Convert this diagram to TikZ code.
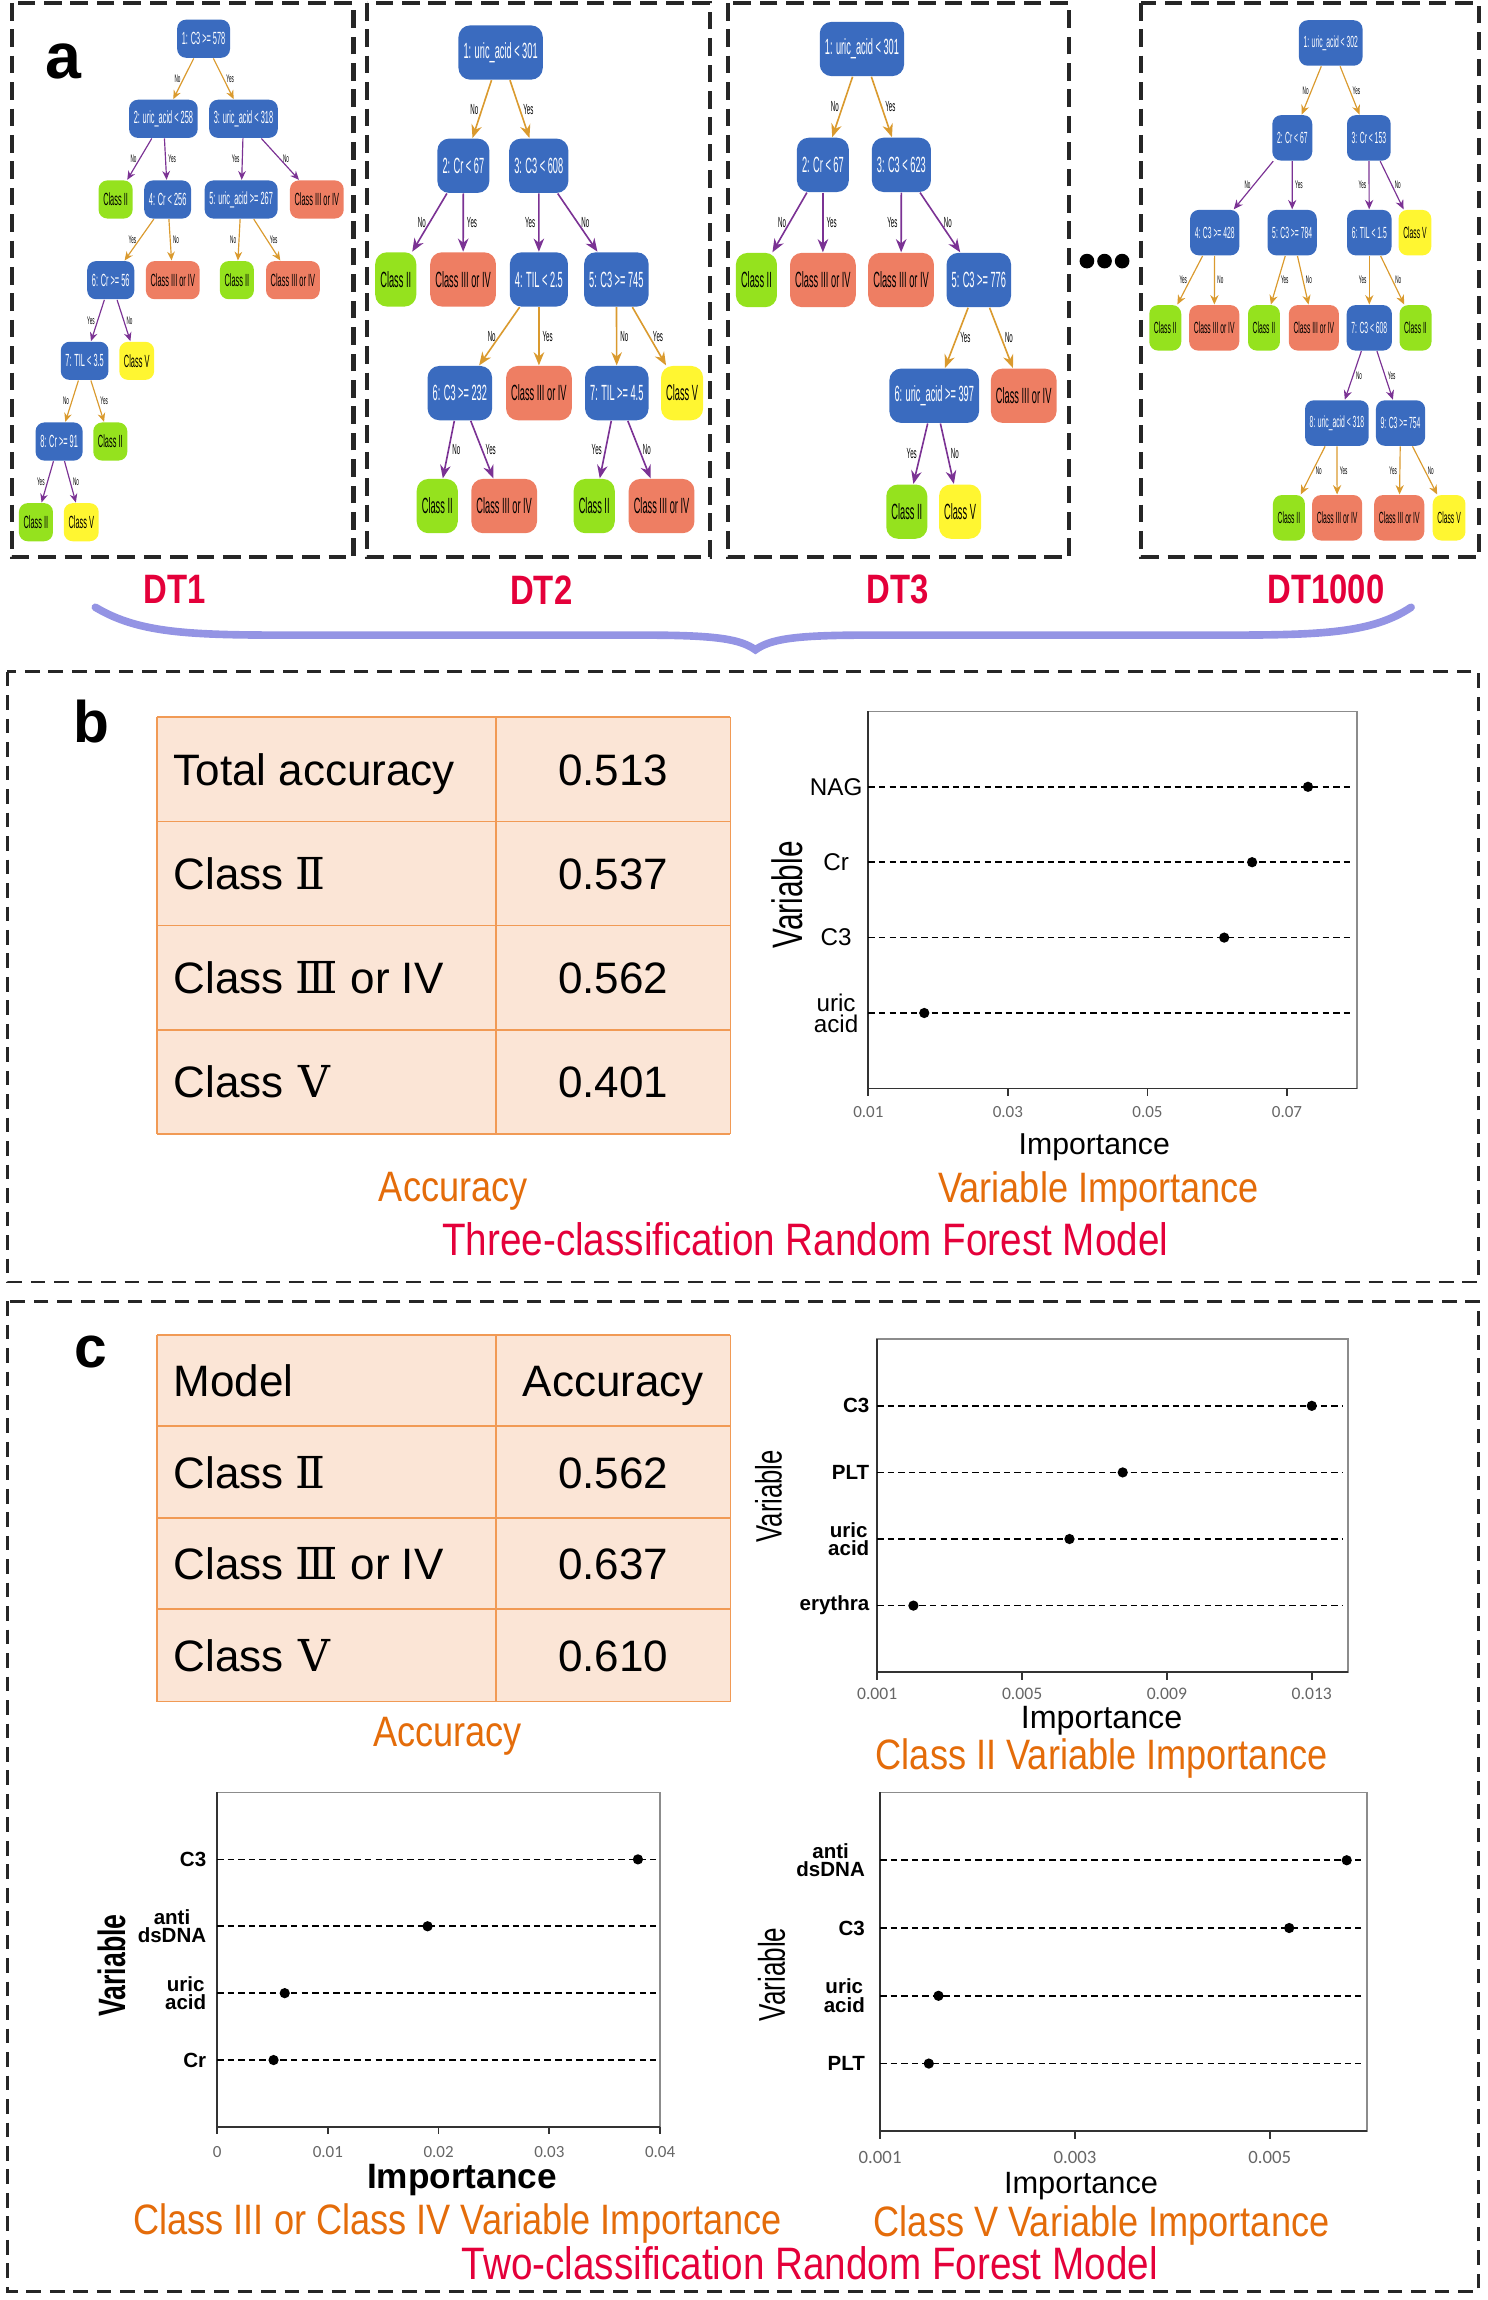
\documentclass[tikz,border=0pt]{standalone}
\usepackage{fontspec}
\setmainfont{Liberation Sans}
\newfontfamily\narrowfont[FakeStretch=0.42]{Liberation Sans}
\newfontfamily\dtfont[FakeStretch=0.8]{Liberation Sans}
\newfontfamily\varfont[FakeStretch=0.7]{Liberation Sans}
\newfontfamily\titlefont[FakeStretch=0.85]{Liberation Sans}
\newfontfamily\romfont{DejaVu Serif}
\newfontfamily\tickfont{Carlito}
\usetikzlibrary{arrows.meta}

\definecolor{treeblue}{HTML}{3A6BBF}
\definecolor{leafgreen}{HTML}{95E21E}
\definecolor{leafsalmon}{HTML}{EE7E63}
\definecolor{leafyellow}{HTML}{FFF631}
\definecolor{edgeorange}{HTML}{DA9A2E}
\definecolor{edgepurple}{HTML}{7B3294}
\definecolor{dtred}{HTML}{E4003A}
\definecolor{titleorange}{HTML}{E46C0A}
\definecolor{tabfill}{HTML}{FBE5D6}
\definecolor{tabline}{HTML}{F19A55}
\definecolor{bracecol}{HTML}{9494E4}

\newcommand{\fsz}[2]{\fontsize{#1}{#2}\selectfont}

\tikzset{
	tn/.style={rounded corners=3pt, minimum height=16pt},
	yn/.style={},
	arr/.style={->},
	dec/.style={tn, fill=treeblue, text=white},
	cii/.style={tn, fill=leafgreen},
	ciii/.style={tn, fill=leafsalmon},
	cv/.style={tn, fill=leafyellow},
	org/.style={arr, draw=edgeorange},
	pur/.style={arr, draw=edgepurple},
	treebox/.style={draw=black!85, line width=1.4pt, dash pattern=on 6pt off 3pt},
	panel/.style={draw=black!85, line width=1pt, dash pattern=on 5pt off 3pt},
	plab/.style={font=\bfseries\fsz{20}{20}},
	dtlab/.style={font=\dtfont\bfseries\fsz{14}{14}, text=dtred},
	tabtxt/.style={font=\fsz{15}{15}, inner sep=0pt},
	otitle/.style={font=\titlefont\fsz{14.5}{15}, text=titleorange, inner sep=1pt},
	rtitle/.style={font=\titlefont\fsz{15.5}{16}, text=dtred, inner sep=1pt},
	frmlight/.style={draw=black!45, line width=0.6pt},
	frmdark/.style={draw=black!80, line width=0.6pt},
	ticklab/.style={font=\tickfont\fsz{5.8}{6}, text=black!60},
	dline/.style={dash pattern=on 2.2pt off 1.4pt, line width=0.6pt},
	ylab/.style={font=\fsz{8.25}{5.8}, align=center, inner sep=0pt},
	ylabc/.style={font=\bfseries\fsz{7}{6.3}, align=center, inner sep=0pt, anchor=east},
	vlab/.style={font=\varfont\fsz{14.5}{14}, rotate=90},
	xlab/.style={font=\fsz{10.3}{10}, inner sep=1pt}
}

\begin{document}
\begin{tikzpicture}[x=0.5pt, y=-0.5pt]
	\useasboundingbox (0,0) rectangle (1014,1568);

	% a: four trees
	\foreach \l/\r in {8/241, 250/484, 496/729, 778/1008}
		\draw[treebox] (\l,2) rectangle (\r,380);
	\node[plab, font=\bfseries\fsz{22}{22}] (la) at (43,42) {a};

	% DT1
	\begin{scope}[tn/.style={rounded corners=3pt, minimum height=13pt, inner xsep=1.6pt, inner ysep=0pt, font=\narrowfont\fsz{6}{6}},
		yn/.style={font=\narrowfont\fsz{3.75}{4}, inner sep=0.8pt},
		arr/.style={line width=0.4pt, -{Stealth[length=3pt,width=2.6pt]}}]
		\node[dec] (a1) at (138.8,26.4) {1: C3 >= 578};
		\node[dec] (a2) at (111.4,81) {2: uric\_acid < 258};
		\node[dec] (a3) at (166,81) {3: uric\_acid < 318};
		\node[cii] (a1l) at (78.8,136) {Class II};
		\node[dec] (a4) at (114.3,136) {4: Cr < 256};
		\node[dec] (a5) at (164.4,136) {5: uric\_acid >= 267};
		\node[ciii] (a2l) at (216,136) {Class III or IV};
		\node[dec] (a6) at (75.5,191) {6: Cr >= 56};
		\node[ciii] (a3l) at (117.8,191) {Class III or IV};
		\node[cii] (a4l) at (161.5,191) {Class II};
		\node[ciii] (a5l) at (199.7,191) {Class III or IV};
		\node[dec] (a7) at (57.7,246) {7: TIL < 3.5};
		\node[cv] (a6l) at (93.2,246) {Class V};
		\node[dec] (a8) at (40.3,301) {8: Cr >= 91};
		\node[cii] (a7l) at (75.2,301) {Class II};
		\node[cii] (a8l) at (24.5,356) {Class II};
		\node[cv] (a9l) at (55.4,356) {Class V};

		\draw[org] (a1) -- node[yn,left]{No} (a2);
		\draw[org] (a1) -- node[yn,right]{Yes} (a3);
		\draw[pur] (a2) -- node[yn,left]{No} (a1l);
		\draw[pur] (a2) -- node[yn,right]{Yes} (a4);
		\draw[pur] (a3) -- node[yn,left]{Yes} (a5);
		\draw[pur] (a3) -- node[yn,right]{No} (a2l);
		\draw[org] (a4) -- node[yn,left]{Yes} (a6);
		\draw[org] (a4) -- node[yn,right]{No} (a3l);
		\draw[org] (a5) -- node[yn,left]{No} (a4l);
		\draw[org] (a5) -- node[yn,right]{Yes} (a5l);
		\draw[pur] (a6) -- node[yn,left]{Yes} (a7);
		\draw[pur] (a6) -- node[yn,right]{No} (a6l);
		\draw[org] (a7) -- node[yn,left]{No} (a8);
		\draw[org] (a7) -- node[yn,right]{Yes} (a7l);
		\draw[pur] (a8) -- node[yn,left]{Yes} (a8l);
		\draw[pur] (a8) -- node[yn,right]{No} (a9l);
	\end{scope}

	% DT2, DT3
	\begin{scope}[tn/.style={rounded corners=4pt, minimum height=18.5pt, inner xsep=1.75pt, inner ysep=0pt, font=\narrowfont\fsz{7.5}{7.5}},
		yn/.style={font=\narrowfont\fsz{5}{5}, inner sep=1pt},
		arr/.style={line width=0.55pt, -{Stealth[length=4.5pt,width=3.6pt]}}]
		\node[dec] (b1) at (341.3,35.8) {1: uric\_acid < 301};
		\node[dec] (b2) at (315.9,113) {2: Cr < 67};
		\node[dec] (b3) at (367.3,113) {3: C3 < 608};
		\node[cii] (b1l) at (269.8,190.5) {Class II};
		\node[ciii] (b2l) at (315.7,190.5) {Class III or IV};
		\node[dec] (b4) at (367.4,190.5) {4: TIL < 2.5};
		\node[dec] (b5) at (420.2,190.5) {5: C3 >= 745};
		\node[dec] (b6) at (313.5,268) {6: C3 >= 232};
		\node[ciii] (b3l) at (367.4,268) {Class III or IV};
		\node[dec] (b7) at (420.5,268) {7: TIL >= 4.5};
		\node[cv] (b4l) at (465,268) {Class V};
		\node[cii] (b5l) at (298.1,345) {Class II};
		\node[ciii] (b6l) at (343.7,345) {Class III or IV};
		\node[cii] (b7l) at (405.1,345) {Class II};
		\node[ciii] (b8l) at (451,345) {Class III or IV};

		\draw[org] (b1) -- node[yn,left]{No} (b2);
		\draw[org] (b1) -- node[yn,right]{Yes} (b3);
		\draw[pur] (b2) -- node[yn,left]{No} (b1l);
		\draw[pur] (b2) -- node[yn,right]{Yes} (b2l);
		\draw[pur] (b3) -- node[yn,left]{Yes} (b4);
		\draw[pur] (b3) -- node[yn,right]{No} (b5);
		\draw[org] (b4) -- node[yn,left]{No} (b6);
		\draw[org] (b4) -- node[yn,right]{Yes} (b3l);
		\draw[org] (b5) -- node[yn,right]{No} (b7);
		\draw[org] (b5) -- node[yn,right]{Yes} (b4l);
		\draw[pur] (b6) -- node[yn,right]{No} (b5l);
		\draw[pur] (b6) -- node[yn,right]{Yes} (b6l);
		\draw[pur] (b7) -- node[yn,left]{Yes} (b7l);
		\draw[pur] (b7) -- node[yn,right]{No} (b8l);

		\node[dec] (c1) at (587.6,33.4) {1: uric\_acid < 301};
		\node[dec] (c2) at (561,112.4) {2: Cr < 67};
		\node[dec] (c3) at (614.5,112.4) {3: C3 < 623};
		\node[cii] (c1l) at (515.7,190.9) {Class II};
		\node[ciii] (c2l) at (561,190.9) {Class III or IV};
		\node[ciii] (c3l) at (614.3,190.9) {Class III or IV};
		\node[dec] (c5) at (667.3,190.9) {5: C3 >= 776};
		\node[dec] (c6) at (636.9,269.8) {6: uric\_acid >= 397};
		\node[ciii] (c4l) at (697.9,269.8) {Class III or IV};
		\node[cii] (c5l) at (618.2,348.8) {Class II};
		\node[cv] (c6l) at (654.5,348.8) {Class V};

		\draw[org] (c1) -- node[yn,left]{No} (c2);
		\draw[org] (c1) -- node[yn,right]{Yes} (c3);
		\draw[pur] (c2) -- node[yn,left]{No} (c1l);
		\draw[pur] (c2) -- node[yn,right]{Yes} (c2l);
		\draw[pur] (c3) -- node[yn,left]{Yes} (c3l);
		\draw[pur] (c3) -- node[yn,right]{No} (c5);
		\draw[org] (c5) -- node[yn,right]{Yes} (c6);
		\draw[org] (c5) -- node[yn,right]{No} (c4l);
		\draw[pur] (c6) -- node[yn,left]{Yes} (c5l);
		\draw[pur] (c6) -- node[yn,right]{No} (c6l);
	\end{scope}

	% DT1000
	\begin{scope}[tn/.style={rounded corners=3pt, minimum height=15.5pt, inner xsep=1.6pt, inner ysep=0pt, font=\narrowfont\fsz{5.5}{5.5}},
		yn/.style={font=\narrowfont\fsz{3.75}{4}, inner sep=0.8pt},
		arr/.style={line width=0.4pt, -{Stealth[length=3.2pt,width=2.8pt]}}]
		\node[dec] (d1) at (907.2,29.3) {1: uric\_acid < 302};
		\node[dec] (d2) at (881,94) {2: Cr < 67};
		\node[dec] (d3) at (933.2,94) {3: Cr < 153};
		\node[dec] (d4) at (828.1,158.6) {4: C3 >= 428};
		\node[dec] (d5) at (880.9,158.6) {5: C3 >= 784};
		\node[dec] (d6) at (933.5,158.6) {6: TIL < 1.5};
		\node[cv] (d1l) at (964.6,158.6) {Class V};
		\node[cii] (d2l) at (794.4,223.5) {Class II};
		\node[ciii] (d3l) at (827.8,223.5) {Class III or IV};
		\node[cii] (d4l) at (861.7,223.5) {Class II};
		\node[ciii] (d5l) at (895.7,223.5) {Class III or IV};
		\node[dec] (d7) at (933.5,223.5) {7: C3 < 608};
		\node[cii] (d6l) at (965,223.5) {Class II};
		\node[dec] (d8) at (911.4,288.4) {8: uric\_acid < 318};
		\node[dec] (d9) at (954.8,288.4) {9: C3 >= 754};
		\node[cii] (d7l) at (878.7,353) {Class II};
		\node[ciii] (d8l) at (911.6,353) {Class III or IV};
		\node[ciii] (d9l) at (953.9,353) {Class III or IV};
		\node[cv] (d10l) at (987.9,353) {Class V};

		\draw[org] (d1) -- node[yn,left]{No} (d2);
		\draw[org] (d1) -- node[yn,right]{Yes} (d3);
		\draw[pur] (d2) -- node[yn,left]{No} (d4);
		\draw[pur] (d2) -- node[yn,right]{Yes} (d5);
		\draw[pur] (d3) -- node[yn,left]{Yes} (d6);
		\draw[pur] (d3) -- node[yn,right]{No} (d1l);
		\draw[org] (d4) -- node[yn,left]{Yes} (d2l);
		\draw[org] (d4) -- node[yn,right]{No} (d3l);
		\draw[org] (d5) -- node[yn,right]{Yes} (d4l);
		\draw[org] (d5) -- node[yn,right]{No} (d5l);
		\draw[org] (d6) -- node[yn,left]{Yes} (d7);
		\draw[org] (d6) -- node[yn,right]{No} (d6l);
		\draw[pur] (d7) -- node[yn,right]{No} (d8);
		\draw[pur] (d7) -- node[yn,right]{Yes} (d9);
		\draw[org] (d8) -- node[yn,right]{No} (d7l);
		\draw[org] (d8) -- node[yn,right]{Yes} (d8l);
		\draw[org] (d9) -- node[yn,left]{Yes} (d9l);
		\draw[org] (d9) -- node[yn,right]{No} (d10l);
	\end{scope}

	\foreach \x in {741,753,765}
		\fill (\x,178) circle (5);

	\node[dtlab] (dt1) at (119,402) {DT1};
	\node[dtlab] (dt2) at (369,402) {DT2};
	\node[dtlab] (dt3) at (612,402) {DT3};
	\node[dtlab] (dt1000) at (904,402) {DT1000};
	\draw[bracecol, line width=2.6pt, line cap=round] (65,414) .. controls (95,432) and (130,433) .. (200,433) -- (440,433)
		.. controls (490,433) and (505,436) .. (515,443) .. controls (525,436) and (540,433) .. (590,433) -- (830,433)
		.. controls (900,433) and (935,432) .. (962,414);

	% b: three classes
	\draw[panel] (5,458) rectangle (1008,874);
	\node[plab] (lb) at (62,492) {b};
	\fill[tabfill] (107,489) rectangle (498,773);
	\foreach \y in {489,560,631,702,773}
		\draw[tabline, line width=0.6pt] (107,\y) -- (498,\y);
	\foreach \x in {107,338,498}
		\draw[tabline, line width=0.6pt] (\x,489) -- (\x,773);
	\foreach \y/\k/\v [count=\i] in {524.5/Total accuracy/0.513, 595.5/{Class {\romfont Ⅱ}}/0.537, 666.5/{Class {\romfont Ⅲ} or IV}/0.562, 737.5/{Class\kern5pt{\romfont Ⅴ}}/0.401} {
		\node[tabtxt, anchor=base west] (bk\i) at (118,\y+11) {\k};
		\node[tabtxt, anchor=base] (bv\i) at (418,\y+11) {\v};
	}

	\draw[frmlight] (592,485) rectangle (925,742);
	\draw[frmdark] (592,485) -- (592,742) -- (925,742);
	\foreach \t/\x [count=\i] in {0.01/592, 0.03/687.1, 0.05/782.3, 0.07/877.4} {
		\draw[frmdark] (\x,742) -- (\x,747);
		\node[ticklab] (bt\i) at (\x,758) {\t};
	}
	\foreach \y/\x/\v [count=\i] in {536.4/891.7/NAG, 587.8/853.6/Cr, 639.2/834.6/C3, 690.6/630.1/{uric\\acid}} {
		\draw[dline] (592,\y) -- (921,\y);
		\fill (\x,\y) circle (3.5);
		\node[ylab] (bn\i) at (570,\y) {\v};
	}
	\node[vlab] (bvar) at (537,610) {Variable};
	\node[xlab] (bimpx) at (746,782) {Importance};

	\node[otitle] (bacc) at (309,812) {Accuracy};
	\node[otitle] (bimp) at (749,812) {Variable Importance};
	\node[rtitle] (bmod) at (549,845) {Three-classification Random Forest Model};

	% c: two classes
	\draw[panel] (5,887) rectangle (1008,1562);
	\node[plab] (lc) at (62,922) {c};
	\fill[tabfill] (107,910) rectangle (498,1160);
	\foreach \y in {910,972,1035,1097,1160}
		\draw[tabline, line width=0.6pt] (107,\y) -- (498,\y);
	\foreach \x in {107,338,498}
		\draw[tabline, line width=0.6pt] (\x,910) -- (\x,1160);
	\foreach \y/\k/\v [count=\i] in {941/Model/Accuracy, 1003.5/{Class {\romfont Ⅱ}}/0.562, 1066/{Class {\romfont Ⅲ} or IV}/0.637, 1128.5/{Class\kern5pt{\romfont Ⅴ}}/0.610} {
		\node[tabtxt, anchor=base west] (ck\i) at (118,\y+11) {\k};
		\node[tabtxt, anchor=base] (cv\i) at (418,\y+11) {\v};
	}
	\node[otitle] (cacc) at (305,1184) {Accuracy};

	% class II
	\draw[frmlight] (598,913) rectangle (919,1140);
	\draw[frmdark] (598,913) -- (598,1140) -- (919,1140);
	\foreach \t/\x [count=\i] in {0.001/598, 0.005/696.8, 0.009/795.5, 0.013/894.3} {
		\draw[frmdark] (\x,1140) -- (\x,1145);
		\node[ticklab, font=\tickfont\fsz{6}{6}] (pt\i) at (\x,1155) {\t};
	}
	\foreach \y/\x/\v [count=\i] in {958.4/894.3/C3, 1003.8/765.4/PLT, 1049.2/729.1/{uric\\acid}, 1094.6/622.7/erythra} {
		\draw[dline] (598,\y) -- (915,\y);
		\fill (\x,\y) circle (3.5);
		\node[ylabc] (pn\i) at (593,\y) {\v};
	}
	\node[vlab, font=\varfont\fsz{12.5}{12}] (pvar) at (524,1020) {Variable};
	\node[xlab, font=\fsz{11}{11}] (pimp) at (751,1173) {Importance};
	\node[otitle] (ptit) at (751,1199) {Class II Variable Importance};

	% class III or IV
	\draw[frmlight] (148,1222) rectangle (450,1450);
	\draw[frmdark] (148,1222) -- (148,1450) -- (450,1450);
	\foreach \t/\x [count=\i] in {0/148, 0.01/223.5, 0.02/299, 0.03/374.5, 0.04/450} {
		\draw[frmdark] (\x,1450) -- (\x,1455);
		\node[ticklab] (qt\i) at (\x,1467) {\t};
	}
	\foreach \y/\x/\v [count=\i] in {1267.6/434.9/C3, 1313.2/291.5/{anti\\dsDNA}, 1358.8/194.1/{uric\\acid}, 1404.4/186.5/Cr} {
		\draw[dline] (148,\y) -- (447,\y);
		\fill (\x,\y) circle (3.5);
		\node[ylabc] (qn\i) at (141,\y) {\v};
	}
	\node[vlab, font=\varfont\bfseries\fsz{13}{13}] (qvar) at (76,1340) {Variable};
	\node[xlab, font=\bfseries\fsz{12}{12}] (qimp) at (315,1486) {Importance};
	\node[otitle] (qtit) at (312,1516) {Class III or Class IV Variable Importance};

	% class V
	\draw[frmlight] (600,1222) rectangle (932,1453);
	\draw[frmdark] (600,1222) -- (600,1453) -- (932,1453);
	\foreach \t/\x [count=\i] in {0.001/600, 0.003/732.8, 0.005/865.6} {
		\draw[frmdark] (\x,1453) -- (\x,1458);
		\node[ticklab, font=\tickfont\fsz{6.4}{6.4}] (rt\i) at (\x,1471) {\t};
	}
	\foreach \y/\x/\v [count=\i] in {1268.2/918.1/{anti\\dsDNA}, 1314.4/878.9/C3, 1360.6/639.8/{uric\\acid}, 1406.8/633.2/PLT} {
		\draw[dline] (600,\y) -- (928,\y);
		\fill (\x,\y) circle (3.5);
		\node[ylabc] (rn\i) at (590,\y) {\v};
	}
	\node[vlab, font=\varfont\fsz{12.7}{12}] (rvar) at (526,1346) {Variable};
	\node[xlab, font=\fsz{10.5}{10.5}] (rimp) at (737,1490) {Importance};
	\node[otitle] (rtit) at (751,1517) {Class V Variable Importance};

	\node[rtitle] (cmod) at (552,1543) {Two-classification Random Forest Model};
\end{tikzpicture}
\end{document}
